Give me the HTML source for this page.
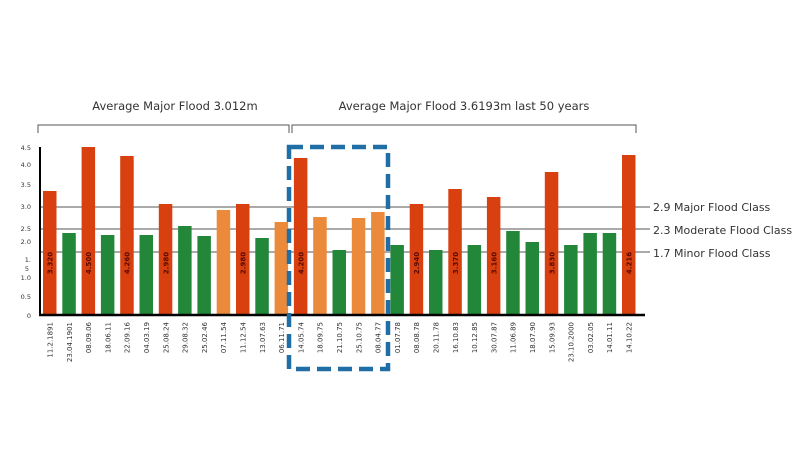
<!DOCTYPE html>
<html><head><meta charset="utf-8"><style>
html,body{margin:0;padding:0;background:#fff;}
svg{display:block;font-family:"DejaVu Sans","Liberation Sans",sans-serif;}
</style></head><body>
<svg width="800" height="450" viewBox="0 0 800 450" xmlns="http://www.w3.org/2000/svg">
<rect width="800" height="450" fill="#fff"/>
<text x="175" y="110" font-size="11.5" fill="#333" text-anchor="middle">Average Major Flood 3.012m</text>
<text x="464" y="110" font-size="11.5" fill="#333" text-anchor="middle">Average Major Flood 3.6193m last 50 years</text>
<path d="M38 133 V125 H289 V133 M292 133 V125 H636 V133" fill="none" stroke="#555" stroke-width="1"/>
<g stroke="#555" stroke-width="1">
<line x1="40" y1="207" x2="650" y2="207"/>
<line x1="40" y1="229" x2="650" y2="229"/>
<line x1="40" y1="252" x2="650" y2="252"/>
</g>
<g font-size="11" fill="#333">
<text x="653" y="211">2.9 Major Flood Class</text>
<text x="653" y="234">2.3 Moderate Flood Class</text>
<text x="653" y="257">1.7 Minor Flood Class</text>
</g>
<g font-size="6.5" fill="#333" text-anchor="end">
<text x="31" y="150">4.5</text><text x="31" y="167">4.0</text><text x="31" y="187">3.5</text>
<text x="31" y="209">3.0</text><text x="31" y="231">2.5</text><text x="31" y="244">2.0</text>
<text x="31" y="262">1.</text><text x="29" y="271">5</text><text x="31" y="280">1.0</text>
<text x="31" y="299">0.5</text><text x="31" y="318">0</text>
</g>
<g id="bars"></g>
<line x1="40" y1="147" x2="40" y2="316" stroke="#000" stroke-width="2"/>
<line x1="39" y1="315" x2="645" y2="315" stroke="#000" stroke-width="2.5"/>
<g id="labels" font-size="7" fill="#333"></g>
<rect x="289" y="147" width="99" height="222" fill="none" stroke="#1f6ea6" stroke-width="4.5" stroke-dasharray="14,7"/>
<script>
var tops=[191,233,147,235,156,235,204,226,236,210,204,238,222,158,217,250,218,212,245,204,250,189,245,197,231,242,172,245,233,233,155];
var cols="RGRGRGRGGORGOROGOOGRGRGRGGRGGGR";
var vals={0:"3.320",2:"4.500",4:"4.260",6:"2.980",10:"2.980",13:"4.200",19:"2.940",21:"3.370",23:"3.160",26:"3.830",30:"4.216"};
var dates=["11.2.1891","23.04.1901","08.09.06","18.06.11","22.09.16","04.03.19","25.08.24","29.08.32","25.02.46","07.11.54","11.12.54","13.07.63","06.11.71","14.05.74","18.09.75","21.10.75","25.10.75","08.04.77","01.07.78","08.08.78","20.11.78","16.10.83","10.12.85","30.07.87","11.06.89","18.07.90","15.09.93","23.10.2000","03.02.05","14.01.11","14.10.22"];
var C={R:"#d9400f",G:"#23873a",O:"#ec8a3c"};
var ns="http://www.w3.org/2000/svg",b=document.getElementById("bars"),l=document.getElementById("labels");
for(var i=0;i<31;i++){var x=43+i*19.3;
var r=document.createElementNS(ns,"rect");r.setAttribute("x",x);r.setAttribute("y",tops[i]);r.setAttribute("width",13.5);r.setAttribute("height",315-tops[i]);r.setAttribute("fill",C[cols[i]]);b.appendChild(r);
if(vals[i]){var t=document.createElementNS(ns,"text");t.setAttribute("transform","translate("+(x+9.5)+",263) rotate(-90)");t.setAttribute("text-anchor","middle");t.setAttribute("font-size","7");t.setAttribute("font-weight","bold");t.setAttribute("fill","#5a0a00");t.textContent=vals[i];b.appendChild(t);}
var d=document.createElementNS(ns,"text");d.setAttribute("transform","translate("+(x+9.5)+",322) rotate(-90)");d.setAttribute("text-anchor","end");d.textContent=dates[i];l.appendChild(d);}
</script>
</svg>
</body></html>
